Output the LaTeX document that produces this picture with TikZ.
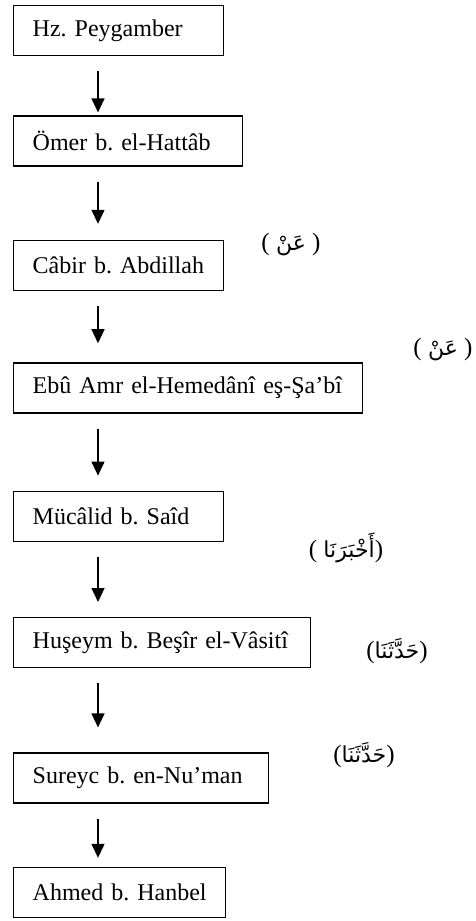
\documentclass[tikz,border=0pt]{standalone}
\usepackage{fontspec}
\setmainfont{Liberation Serif}
\newfontfamily\arabicfont[Script=Arabic]{DejaVu Sans}
\newcommand{\arb}{\arabicfont\fontsize{22}{26}\selectfont}
\TeXXeTstate=1
\frenchspacing
\usetikzlibrary{arrows.meta,positioning}

\begin{document}
\begin{tikzpicture}[x=1pt,y=-1pt,
  ravi/.style={draw, line width=1.4pt, minimum height=50pt, inner xsep=19pt,
               text width=#1, align=left, font=\fontsize{24}{28}\selectfont},
  sened/.style={inner sep=0pt, font=\fontsize{25}{28}\selectfont},
  arr/.style={-{Triangle[length=14pt,width=13pt]}, line width=1.3pt}
]
  \useasboundingbox (0,0) rectangle (475,921);

  \node[ravi=172pt, anchor=north west] (peygamber) at (13,5) {Hz. Peygamber};
  \node[ravi=191pt, below=59pt of peygamber.south west, anchor=north west] (omer) {Ömer b. el-Hattâb};
  \node[ravi=172pt, below=73pt of omer.south west, anchor=north west] (cabir) {Câbir b. Abdillah};
  \node[ravi=311pt, below=71pt of cabir.south west, anchor=north west] (ebuamr) {Ebû Amr el-Hemedânî eş-Şa’bî};
  \node[ravi=172pt, below=77pt of ebuamr.south west, anchor=north west] (mucalid) {Mücâlid b. Saîd};
  \node[ravi=259pt, below=75pt of mucalid.south west, anchor=north west] (huseym) {Huşeym b. Beşîr el-Vâsitî};
  \node[ravi=217pt, below=84pt of huseym.south west, anchor=north west] (sureyc) {Sureyc b. en-Nu’man};
  \node[ravi=174pt, below=63pt of sureyc.south west, anchor=north west] (ahmed) {Ahmed b. Hanbel};

  % rivayet sigalari
  \node[sened] (an1) at (291,245) {( {\arb\beginR عَنْ\endR} )};
  \node[sened] (an2) at (443,350) {( {\arb\beginR عَنْ\endR} )};
  \node[sened] (ahberena) at (346,548) {( {\arb\beginR أَخْبَرَنَا\endR})};
  \node[sened] (haddesena1) at (397,651) {({\arb\beginR حَدَّثَنَا\endR})};
  \node[sened] (haddesena2) at (364,755) {({\arb\beginR حَدَّثَنَا\endR})};

  \foreach \a/\b/\g in {peygamber/omer/3, omer/cabir/16, cabir/ebuamr/19, ebuamr/mucalid/15,
                        mucalid/huseym/15, huseym/sureyc/25, sureyc/ahmed/9}
    \draw[arr] ([xshift=85pt,yshift=-15pt]\a.south west) -- ([xshift=85pt,yshift=\g pt]\b.north west);
\end{tikzpicture}
\end{document}
